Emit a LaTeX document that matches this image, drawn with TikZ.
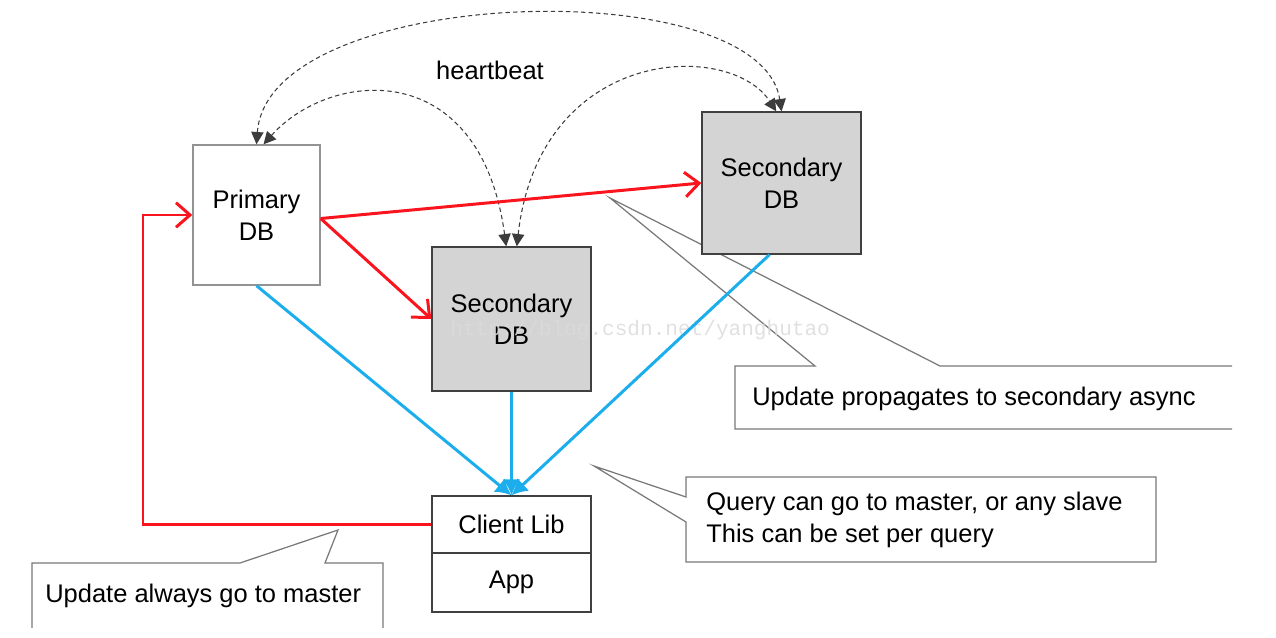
\documentclass[tikz,border=0pt]{standalone}
\usepackage{fontspec}
\setmainfont{Liberation Sans}
\newfontfamily\wmfont{Liberation Mono}
\usetikzlibrary{arrows.meta,calc}
\definecolor{redln}{RGB}{250,20,30}
\definecolor{blueln}{RGB}{28,174,236}
\definecolor{dbfill}{RGB}{212,212,212}
\definecolor{hbcol}{RGB}{60,60,60}
\definecolor{callcol}{RGB}{120,120,120}
\tikzset{
  txt/.style={font=\fontsize{14.5}{18}\selectfont, text=black},
  primbox/.style={txt, draw=gray!85, line width=0.8pt, fill=white, inner sep=0pt, align=center, minimum width=2.54cm, minimum height=2.8cm},
  secbox/.style={txt, draw=black!75, line width=0.8pt, fill=dbfill, inner sep=0pt, align=center, minimum width=3.18cm},
  appbox/.style={txt, draw=black!75, line width=0.8pt, fill=white, inner sep=0pt, align=center, minimum width=3.18cm},
  redarrow/.style={draw=redln, line width=1.7pt, -{Straight Barb[length=8pt,width=14pt,line width=1.7pt]}},
  bluearrow/.style={draw=blueln, line width=1.7pt, -{Latex[length=9pt,width=10pt]}},
  hbarrow/.style={draw=hbcol, line width=0.6pt, dash pattern=on 2.5pt off 1.8pt, {Triangle[length=7pt,width=7pt]}-{Triangle[length=7pt,width=7pt]}},
  callout/.style={draw=callcol, line width=0.7pt},
  calltext/.style={txt, anchor=west, align=left, inner sep=0pt}
}
\begin{document}
\begin{tikzpicture}[x=0.02cm, y=-0.02cm]
\useasboundingbox (0,0) rectangle (1276,638);

% callouts (behind)
\draw[callout] (1232,366) -- (940,366) -- (610,198) -- (815,366) -- (735,366) -- (735,429) -- (1232,429);
\draw[callout, fill=white] (686,477) -- (1156,477) -- (1156,562) -- (686,562) -- (686,522) -- (594,466) -- (686,497) -- cycle;
\draw[callout] (32,628) -- (32,563) -- (240,563) -- (338,530) -- (325,563) -- (383,563) -- (383,628);

% boxes
\node[primbox] (primary) at (256.5,215) {Primary\\DB};
\node[secbox, minimum height=2.88cm] (sec1) at (511.5,319) {Secondary\\DB};
\node[secbox, minimum height=2.84cm] (sec2) at (781.5,183) {Secondary\\DB};
\node[appbox, minimum height=1.14cm] (client) at (511.5,524.5) {Client Lib};
\node[appbox, minimum height=1.18cm] (app) at (511.5,582.5) {App};

% watermark
\node[font=\wmfont\fontsize{12}{14}\selectfont, text=black!14, anchor=west, inner sep=0pt, opacity=0.85] (wm) at (450,330) {http://blog.csdn.net/yanghutao};

% callout texts
\node[calltext] (t1) at (752,399) {Update propagates to secondary async};
\node[calltext] (t2) at (706,520) {Query can go to master, or any slave\\This can be set per query};
\node[calltext] (t3) at (45,596) {Update always go to master};
\node[txt, inner sep=0pt] (hb) at (490,70) {heartbeat};

% heartbeat arcs
\draw[hbarrow] (primary.north) .. controls (268,-15) and (760,-30) .. (sec2.north);
\draw[hbarrow] ([xshift=4pt]primary.north) .. controls (330,70) and (480,55) .. ([xshift=-3pt]sec1.north);
\draw[hbarrow] ([xshift=3pt]sec1.north) .. controls (540,45) and (730,40) .. ([xshift=-3pt]sec2.north);

% red update arrows
\coordinate (rc) at (143,215);
\draw[redarrow] (client.west) -| (rc) -- (primary.west);
\draw[redarrow] ([yshift=-2pt]primary.east) -- (sec2.west);
\draw[redarrow] ([yshift=-2pt]primary.east) -- (sec1.west);

% blue query arrows
\draw[bluearrow] (primary.south) -- (client.north);
\draw[bluearrow] (sec1.south) -- (client.north);
\draw[bluearrow] ($(sec2.south)+(-12,0)$) -- (client.north);
\end{tikzpicture}
\end{document}
